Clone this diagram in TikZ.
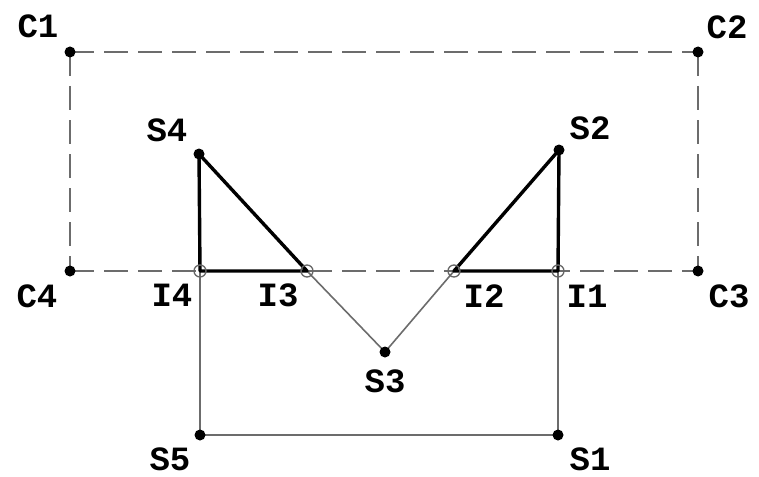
\documentclass[tikz,border=0pt]{standalone}
\usepackage{fontspec}
\newfontfamily\labfont{Liberation Mono}
\begin{document}
\begin{tikzpicture}[x=1pt,y=-1pt,
  dot/.style={circle,fill=black,inner sep=0pt,minimum size=11pt},
  ring/.style={circle,draw=gray!80!black,line width=1.3pt,inner sep=0pt,minimum size=12pt},
  lab/.style={font=\labfont\bfseries\fontsize{34}{34}\selectfont,inner sep=0pt,anchor=center},
  frame/.style={draw=gray!85!black,line width=2pt,dash pattern=on 24pt off 10pt},
  thick edge/.style={draw=black,line width=3.4pt},
  thin edge/.style={draw=gray!85!black,line width=1.6pt}]
\useasboundingbox (0,0) rectangle (759,476);
% points
\coordinate (C1) at (70,52);
\coordinate (C2) at (698,52);
\coordinate (C3) at (698,271);
\coordinate (C4) at (70,271);
\coordinate (S4) at (199,154);
\coordinate (S2) at (559,150);
\coordinate (S3) at (385,352);
\coordinate (S5) at (200,435);
\coordinate (S1) at (558,435);
\coordinate (I4) at (200,271);
\coordinate (I3) at (307,271);
\coordinate (I2) at (454,271);
\coordinate (I1) at (558,271);
% dashed frame
\draw[frame] (C1) -- (C2);
\draw[frame] (C2) -- (C3);
\draw[frame] (C4) -- (C3);
\draw[frame] (C1) -- (C4);
% thin gray lines
\draw[thin edge] (I4) -- (S5) -- (S1) -- (I1);
\draw[thin edge] (I3) -- (S3) -- (I2);
% thick triangles
\draw[thick edge,line join=round] (S4) -- (I4) -- (I3) -- cycle;
\draw[thick edge,line join=round] (S2) -- (I1) -- (I2) -- cycle;
% rings
\foreach \p in {I1,I2,I3,I4} \node[ring] (r\p) at (\p) {};
% dots
\foreach \p in {C1,C2,C3,C4,S1,S2,S3,S4,S5} \node[dot] (d\p) at (\p) {};
% labels
\node[lab] (tC1) at (38,26) {C1};
\node[lab] (tC2) at (727,27) {C2};
\node[lab] (tC4) at (37,296) {C4};
\node[lab] (tC3) at (729,296) {C3};
\node[lab] (tS4) at (167,130) {S4};
\node[lab] (tS2) at (590,128) {S2};
\node[lab] (tI4) at (172,295) {I4};
\node[lab] (tI3) at (278,295) {I3};
\node[lab] (tI2) at (484,296) {I2};
\node[lab] (tI1) at (587,296) {I1};
\node[lab] (tS3) at (385,381) {S3};
\node[lab] (tS5) at (170,459) {S5};
\node[lab] (tS1) at (590,459) {S1};
\end{tikzpicture}
\end{document}
